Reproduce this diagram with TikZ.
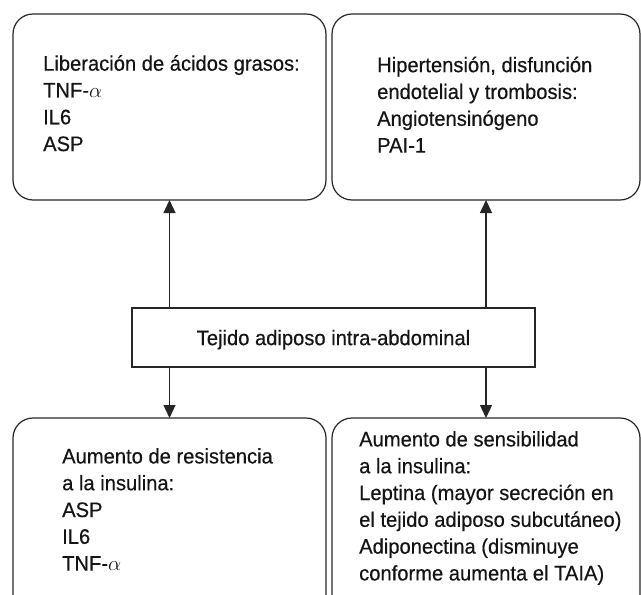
\documentclass[tikz,border=0pt]{standalone}
\usepackage{fontspec}
\setmainfont{Liberation Sans}[FakeStretch=0.96,FakeBold=0.4]
\usetikzlibrary{arrows.meta}
\definecolor{linec}{gray}{0.15}
\definecolor{textc}{gray}{0.08}
\begin{document}
\begin{tikzpicture}[x=1pt,y=-1pt,
  box/.style={draw=linec, line width=1.2pt, rounded corners=20pt, inner sep=0pt, outer sep=0pt},
  cbox/.style={draw=linec, fill=white, line width=1.2pt, inner sep=0pt, outer sep=0pt, minimum width=403pt, minimum height=59pt, text depth=0pt, font=\fontsize{21}{26.8}\selectfont, text=textc},
  txt/.style={anchor=north west, align=left, inner sep=0pt, font=\fontsize{21}{26.8}\selectfont, text=textc},
  arr/.style={draw=linec, line width=1.3pt, -{Triangle[length=13pt,width=12pt]}}]
\useasboundingbox (0,0) rectangle (641,595);
\clip (0,0) rectangle (641,595);
\node[box, minimum width=313pt, minimum height=186pt] (tl) at (169.5,107) {};
\node[box, minimum width=308pt, minimum height=186pt] (tr) at (486,107) {};
\node[box, minimum width=313pt, minimum height=202pt] (bl) at (169.5,519) {};
\node[box, minimum width=308pt, minimum height=202pt] (br) at (486,519) {};
\node[cbox] (c) at (333.5,337.5) {Tejido adiposo intra-abdominal};
\node[txt] (tlt) at (43,55) {Liberación de ácidos grasos:\\TNF-$\alpha$\\IL6\\ASP};
\node[txt] (trt) at (377,56.5) {Hipertensión, disfunción\\endotelial y trombosis:\\Angiotensinógeno\\PAI-1};
\node[txt] (blt) at (62,448) {Aumento de resistencia\\a la insulina:\\ASP\\IL6\\TNF-$\alpha$};
\node[txt] (brt) at (359,431) {Aumento de sensibilidad\\a la insulina:\\Leptina (mayor secreción en\\el tejido adiposo subcutáneo)\\Adiponectina (disminuye\\conforme aumenta el TAIA)};
\draw[arr] (c.north -| tl.south) -- (tl.south);
\draw[arr] (c.north -| tr.south) -- (tr.south);
\draw[arr] (c.south -| bl.north) -- (bl.north);
\draw[arr] (c.south -| br.north) -- (br.north);
\end{tikzpicture}
\end{document}
